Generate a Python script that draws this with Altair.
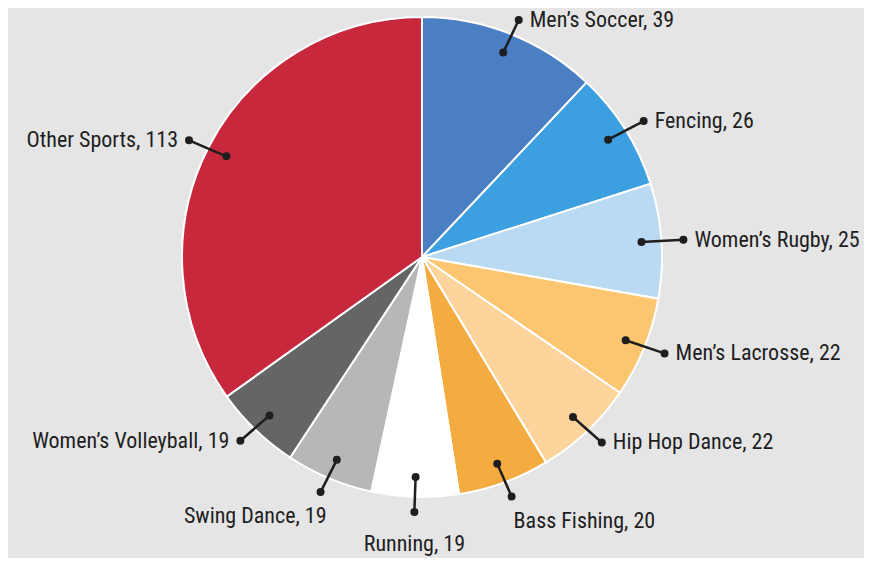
import altair as alt
import pandas as pd

# ---- data ----
categories = ["Men’s Soccer", "Fencing", "Women’s Rugby", "Men’s Lacrosse", "Hip Hop Dance",
              "Bass Fishing", "Running", "Swing Dance", "Women’s Volleyball", "Other Sports"]
values = [39, 26, 25, 22, 22, 20, 19, 19, 19, 113]
colors = ["#4a7fc3", "#3b9fe0", "#bad9f2", "#fbc66f", "#fdd49c",
          "#f4ab40", "#ffffff", "#b7b7b7", "#656565", "#c8283c"]

df = pd.DataFrame({"sport": categories, "value": values, "idx": list(range(len(categories)))})

# ---- layout ----
W, H = 856, 550
CX, CY = 414, 249          # pie centre inside the view (pixels)
R = 240                    # pie radius
R_IN = 220                 # inner end of leader
RX_OUT, RY_OUT = 262, 255  # outer end of leader (slightly elliptic)

FONT = "'Roboto Condensed', 'Open Sans Condensed', 'Liberation Sans Narrow', 'Arial Narrow', Roboto, sans-serif"
INK = "#1e1e1e"

xs = alt.Scale(domain=[-CX, W - CX], zero=False, nice=False)
ys = alt.Scale(domain=[-(H - CY), CY], zero=False, nice=False)

base = (
    alt.Chart(df)
    .transform_joinaggregate(total="sum(value)")
    .transform_window(cum="sum(value)", sort=[alt.SortField("idx")], frame=[None, 0])
    .transform_calculate(
        a="(datum.cum - datum.value / 2) / datum.total * 2 * PI",
        label="datum.sport + ', ' + datum.value",
        cx="0", cy="0",
    )
    .transform_calculate(
        deg="datum.a * 180 / PI",
        ix=f"{R_IN} * sin(datum.a)", iy=f"{R_IN} * cos(datum.a)",
        ox=f"{RX_OUT} * sin(datum.a)", oy=f"{RY_OUT} * cos(datum.a)",
    )
    .transform_calculate(
        below="datum.deg > 150 && datum.deg < 215",
    )
    .transform_calculate(
        lx="datum.below ? datum.ox + (datum.deg < 170 ? 2 : (datum.deg > 190 ? 6 : 0)) : datum.ox + (datum.deg < 180 ? 11 : -11)",
        ly="datum.below ? datum.oy - (datum.deg >= 170 && datum.deg <= 190 ? 32 : 24) : datum.oy",
    )
)

pie = base.mark_arc(outerRadius=R, stroke="white", strokeWidth=2).encode(
    theta=alt.Theta("value:Q", stack=True),
    order=alt.Order("idx:Q"),
    color=alt.Color("sport:N", scale=alt.Scale(domain=categories, range=colors), legend=None),
    x=alt.X("cx:Q", scale=xs, axis=None),
    y=alt.Y("cy:Q", scale=ys, axis=None),
)

leaders = base.mark_rule(color=INK, strokeWidth=2.5).encode(
    x=alt.X("ix:Q", scale=xs, axis=None), y=alt.Y("iy:Q", scale=ys, axis=None),
    x2="ox:Q", y2="oy:Q",
)
dot_in = base.mark_circle(color=INK, opacity=1, size=64).encode(
    x=alt.X("ix:Q", scale=xs, axis=None), y=alt.Y("iy:Q", scale=ys, axis=None),
)
dot_out = base.mark_circle(color=INK, opacity=1, size=64).encode(
    x=alt.X("ox:Q", scale=xs, axis=None), y=alt.Y("oy:Q", scale=ys, axis=None),
)

def labels(filt, align):
    return base.transform_filter(filt).mark_text(
        align=align, baseline="middle", font=FONT, fontSize=22, color=INK
    ).encode(
        x=alt.X("lx:Q", scale=xs, axis=None), y=alt.Y("ly:Q", scale=ys, axis=None),
        text="label:N",
    )

lab_left = labels("datum.deg < 170", "left")
lab_mid = labels("datum.deg >= 170 && datum.deg <= 190", "center")
lab_right = labels("datum.deg > 190", "right")

chart = (
    alt.layer(pie, leaders, dot_in, dot_out, lab_left, lab_mid, lab_right)
    .properties(width=W, height=H, padding=0, autosize=alt.AutoSizeParams(type="none"))
    .configure(background="#e5e5e5")
    .configure_view(stroke=None)
)

chart.save("out.html", embed_options={"renderer": "svg", "actions": False})
